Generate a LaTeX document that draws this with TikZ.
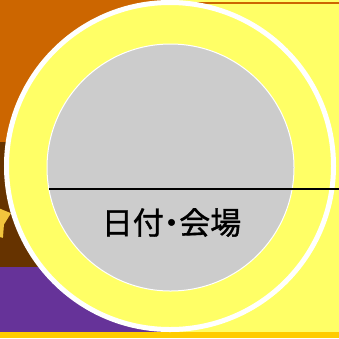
\documentclass[tikz,border=0pt]{standalone}
\usepackage{fontspec}
\newfontfamily\cjk[RawFeature=+palt, FakeBold=1.2]{Noto Sans CJK JP}
\usetikzlibrary{shapes.geometric}
\definecolor{bgorange}{HTML}{CC6600}
\definecolor{bgbrown}{HTML}{663300}
\definecolor{bgpurple}{HTML}{663399}
\definecolor{bggold}{HTML}{FFCC00}
\definecolor{ringyellow}{HTML}{FFFF66}
\definecolor{innergray}{HTML}{CCCCCC}
\definecolor{staryellow}{HTML}{F2C53D}
\tikzset{
  outerring/.style={circle, fill=ringyellow, draw=white, line width=5pt, inner sep=0pt, outer sep=0pt, minimum size=327pt},
  innerdisc/.style={circle, fill=innergray, draw=white, line width=1pt, inner sep=0pt, outer sep=0pt, minimum size=247pt},
  divider/.style={draw=black, line width=2.2pt},
  labeltext/.style={inner sep=0pt, font=\cjk\fontsize{31}{31}\selectfont}
}
\begin{document}
\begin{tikzpicture}[x=1pt,y=-1pt]
\useasboundingbox (0,0) rectangle (339,338);
\fill[bgorange] (0,0) rectangle (170,142);
\fill[bgbrown] (0,142) rectangle (170,267);
\fill[bgpurple] (0,267) rectangle (170,332);
\fill[ringyellow] (170,0) rectangle (339,332);
\draw[bgorange, line width=1.2pt] (170,3) -- (339,3);
\fill[bggold] (0,332) rectangle (339,338);
\node[star, star points=5, fill=staryellow, inner sep=0pt, minimum size=44pt] (star) at (-10,220) {};
\node[outerring] (outer) at (170,166) {};
\node[innerdisc] (inner) at (170.5,167.5) {};
\coordinate (rightedge) at (339,0);
\draw[divider] (inner.190) -- (inner.190 -| rightedge);
\node[labeltext] (label) at (171.5,222.5) {日付・会場};
\end{tikzpicture}
\end{document}
